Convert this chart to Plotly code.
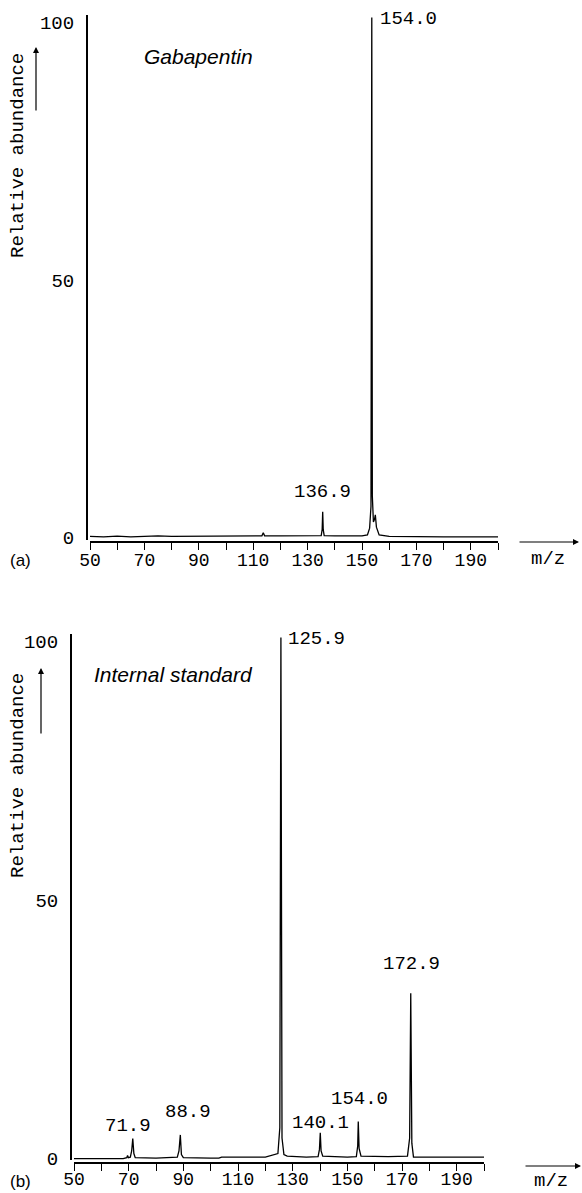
import plotly.graph_objects as go

W, H = 582, 1193

# ---------------- data ----------------
# (a) Gabapentin spectrum trace (m/z, relative abundance)
gaba_mz = [50, 55, 60, 65, 70, 75, 80, 90, 100, 110, 113.2, 113.7, 114.2, 120, 130,
           135.0, 135.35, 135.55, 135.75, 136.1, 140, 150, 152.0, 152.8, 153.3, 153.6,
           153.8, 154.2, 154.6, 154.9, 155.3, 156.3, 160, 170, 180, 190, 200]
gaba_ab = [0.2, 0.1, 0.25, 0.1, 0.2, 0.3, 0.2, 0.25, 0.3, 0.35, 0.3, 0.9, 0.3, 0.3, 0.3,
           0.35, 1.5, 5.0, 1.5, 0.35, 0.3, 0.3, 0.5, 1.8, 6.0, 101.0,
           8.0, 3.0, 3.5, 4.4, 2.0, 0.5, 0.2, 0.1, 0.1, 0.1, 0.1]
gaba_labels = ["136.9", "154.0"]

# (b) Internal standard spectrum trace
istd_mz = [50, 60, 68, 69.3, 69.6, 69.9, 70.6, 71.1, 71.5, 71.9, 72.4, 80, 87.8, 88.4,
           88.9, 89.3, 90, 100, 103, 104, 110, 120, 124.6, 125.3, 125.7, 126.1, 126.8,
           128, 135, 139.3, 139.8, 140.1, 140.4, 141, 150, 153.3, 153.8, 154.0, 154.3,
           155, 165, 172.0, 172.8, 173.2, 173.6, 174.2, 180, 190, 200]
istd_ab = [0.0, 0.0, 0.0, 0.2, 0.6, 0.2, 0.3, 1.5, 3.9, 1.0, 0.2, 0.1, 0.3, 1.5,
           4.6, 0.8, 0.2, 0.1, 0.1, 0.3, 0.3, 0.3, 1.0, 6.0, 100.8, 4.0, 0.8,
           0.5, 0.3, 0.4, 1.8, 5.0, 1.5, 0.5, 0.3, 0.4, 2.5, 7.2, 2.0,
           0.5, 0.4, 0.5, 4.0, 32.0, 3.0, 0.3, 0.3, 0.3, 0.3]
istd_labels = ["71.9", "88.9", "125.9", "140.1", "154.0", "172.9"]

x_tickvals = [50, 60, 70, 80, 90, 100, 110, 120, 130, 140, 150, 160, 170, 180, 190, 200]
x_ticktext = ["50", "", "70", "", "90", "", "110", "", "130", "", "150", "", "170", "", "190", ""]
y_tickvals = [0, 50, 100]
y_ticktext = ["0", "50", "100"]
titles = ["Gabapentin", "Internal standard"]
panel_tags = ["(a)", "(b)"]
y_title = "Relative abundance"
x_title = "m/z"

# ---------------- helpers ----------------
def px(x):
    return x / W

def py(y):
    return 1 - y / H

MONO = "Liberation Mono, Courier New, monospace"
SANS = "Liberation Sans, Arial, sans-serif"
FS = 19

fig = go.Figure()
fig.add_trace(go.Scatter(x=gaba_mz, y=gaba_ab, mode="lines", xaxis="x", yaxis="y",
                         line=dict(color="black", width=1.3), showlegend=False,
                         hoverinfo="skip"))
fig.add_trace(go.Scatter(x=istd_mz, y=istd_ab, mode="lines", xaxis="x2", yaxis="y2",
                         line=dict(color="black", width=1.3), showlegend=False,
                         hoverinfo="skip"))

xcommon = dict(range=[50, 200], tickmode="array", tickvals=x_tickvals, ticktext=x_ticktext,
               ticks="outside", ticklen=7, tickwidth=1.2, tickcolor="black",
               showline=True, linecolor="black", linewidth=2, showgrid=False,
               zeroline=False, tickfont=dict(family=MONO, size=18, color="black"),
               fixedrange=True, automargin=False)
ycommon = dict(tickmode="array", tickvals=y_tickvals, ticktext=y_ticktext, ticks="",
               showline=True, linecolor="black", linewidth=2, showgrid=False,
               zeroline=False, tickfont=dict(family=MONO, size=FS, color="black"),
               ticklabelstandoff=8, fixedrange=True, automargin=False)

fig.update_layout(
    template="none",
    width=W, height=H,
    margin=dict(l=0, r=0, t=0, b=0, autoexpand=False),
    paper_bgcolor="white", plot_bgcolor="white",
    xaxis=dict(domain=[px(90), px(498)], anchor="free", position=py(542),
               ticklabelstandoff=-6, **xcommon),
    yaxis=dict(domain=[py(540), py(15)], anchor="free", position=px(87),
               range=[-0.5, 101.5], **ycommon),
    xaxis2=dict(domain=[px(74), px(484)], anchor="free", position=py(1163),
                ticklabelstandoff=-8, **xcommon),
    yaxis2=dict(domain=[py(1160), py(634)], anchor="free", position=px(71),
                range=[-0.25, 101.5], **ycommon),
)

ann = []

def text(x, y, s, font, xanchor="center", textangle=0):
    ann.append(dict(x=px(x), y=py(y), xref="paper", yref="paper", text=s,
                    showarrow=False, xanchor=xanchor, yanchor="middle",
                    font=font, textangle=textangle))

mono = dict(family=MONO, size=FS, color="black")
ital = dict(family=SANS, size=21, color="black")
tagf = dict(family=SANS, size=17, color="black")

# panel (a)
text(322.5, 492, gaba_labels[0], mono)
text(378, 19, gaba_labels[1], mono, xanchor="left")
text(142, 57, "<i>%s</i>" % titles[0], ital, xanchor="left")
text(20, 560, panel_tags[0], tagf)
text(548, 559, x_title, mono)
text(18, 156, y_title, mono, textangle=-90)

# panel (b)
text(127.5, 1126, istd_labels[0], mono)
text(187.5, 1112, istd_labels[1], mono)
text(286, 639, istd_labels[2], mono, xanchor="left")
text(320.5, 1123, istd_labels[3], mono)
text(359.5, 1099, istd_labels[4], mono)
text(411, 964, istd_labels[5], mono)
text(92, 674, "<i>%s</i>" % titles[1], ital, xanchor="left")
text(20, 1181, panel_tags[1], tagf)
text(551, 1181, x_title, mono)
text(18, 776, y_title, mono, textangle=-90)

# arrows
def arrow(xh, yh, dx, dy):
    ann.append(dict(x=px(xh), y=py(yh), xref="paper", yref="paper", text="",
                    showarrow=True, ax=dx, ay=dy, axref="pixel", ayref="pixel",
                    arrowhead=2, arrowsize=1, arrowwidth=1.2, arrowcolor="black"))

arrow(36, 47, 0, 65)
arrow(579, 542, -61, 0)
arrow(41, 668, 0, 67)
arrow(581, 1166, -57, 0)

fig.update_layout(annotations=ann)
fig.write_html("out.html")
